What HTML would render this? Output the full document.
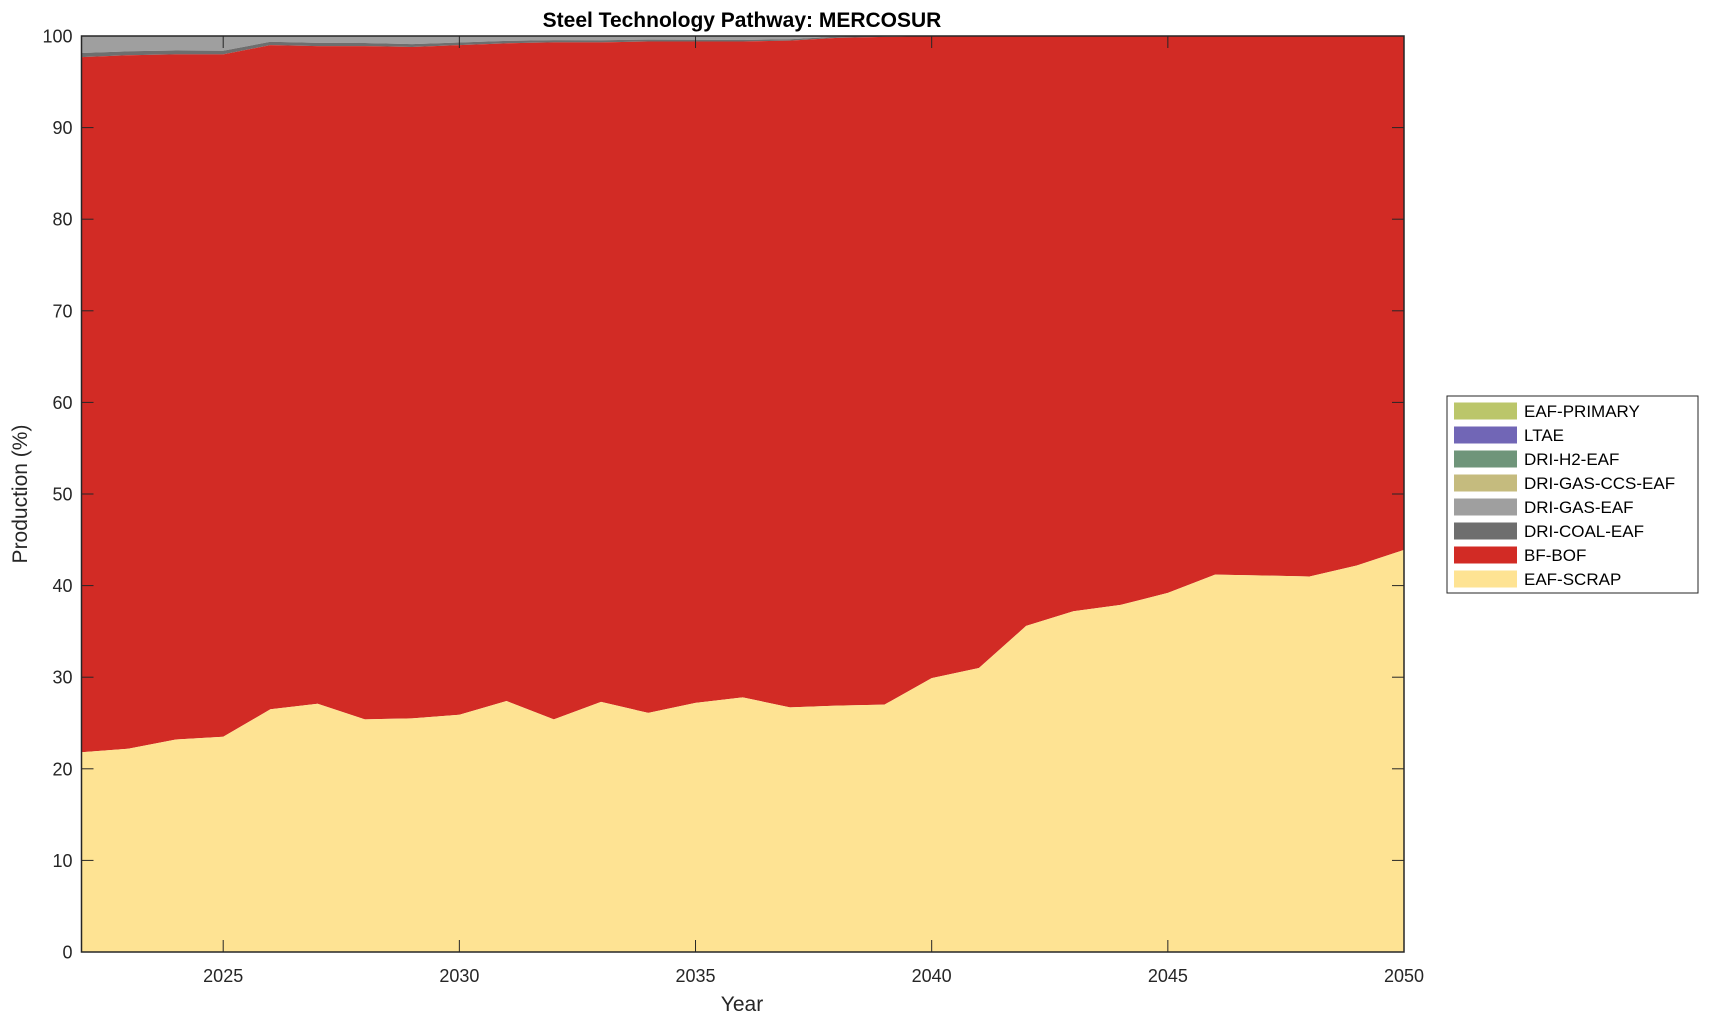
<!DOCTYPE html>
<html><head><meta charset="utf-8"><style>
html,body{margin:0;padding:0;background:#fff;}
svg{display:block;font-family:"Liberation Sans",Arial,sans-serif;}
</style></head><body>
<svg id="s" width="1709" height="1021" viewBox="0 0 1709 1021" xmlns="http://www.w3.org/2000/svg">
<g id="areas"></g>
<g id="axes"></g>
<text x="742" y="27" text-anchor="middle" font-size="21" font-weight="bold" fill="#000">Steel Technology Pathway: MERCOSUR</text>
<text x="742" y="1011" text-anchor="middle" font-size="21" fill="#262626">Year</text>
<text transform="translate(27,494) rotate(-90)" text-anchor="middle" font-size="21" fill="#262626">Production (%)</text>
<g id="legend">
<rect x="1447" y="396" width="251" height="197" fill="#fff" stroke="#262626" stroke-width="1"/>
</g>
</svg>
<script>
const L=81.5,R=1404,T=36,B=952;
const X=y=>L+(y-2022)*(R-L)/28, Y=v=>B-v*(B-T)/100;
const scrap=[21.8,22.2,23.2,23.5,26.5,27.1,25.4,25.5,25.9,27.4,25.4,27.3,26.1,27.2,27.8,26.7,26.9,27.0,29.9,31.0,35.6,37.2,37.9,39.2,41.2,41.1,41.0,42.2,43.9];
const bof=[97.7,97.9,98.0,98.0,99.0,98.9,98.9,98.8,99.0,99.2,99.3,99.3,99.4,99.4,99.4,99.5,99.8,99.9,100,100,100,100,100,100,100,100,100,100,100];
const coal=bof.map((v,i)=>Math.min(100,v+(i<17?0.45-i*0.02:0.1)));
const ns="http://www.w3.org/2000/svg";
function poly(top,bot,fill,g){let p=[];top.forEach((v,i)=>p.push(X(2022+i).toFixed(2)+","+Y(v).toFixed(2)));
for(let i=bot.length-1;i>=0;i--)p.push(X(2022+i).toFixed(2)+","+Y(bot[i]).toFixed(2));
const e=document.createElementNS(ns,"polygon");e.setAttribute("points",p.join(" "));e.setAttribute("fill",fill);g.appendChild(e);}
const A=document.getElementById("areas");
const zero=scrap.map(()=>0),hund=scrap.map(()=>100);
poly(hund,coal,"#9f9f9f",A);
poly(coal,bof,"#6e6e6e",A);
poly(bof,scrap,"#d22b25",A);
poly(scrap,zero,"#fee393",A);
const G=document.getElementById("axes");
let h=`<rect x="${L}" y="${T}" width="${R-L}" height="${B-T}" fill="none" stroke="#262626" stroke-width="1.5"/>`;
for(let v=0;v<=100;v+=10){const y=Y(v);h+=`<line x1="${L}" x2="${L+12}" y1="${y}" y2="${y}" stroke="#262626"/><line x1="${R-12}" x2="${R}" y1="${y}" y2="${y}" stroke="#262626"/><text x="${L-9}" y="${y+6.5}" text-anchor="end" font-size="18" fill="#262626">${v}</text>`;}
for(let yr=2025;yr<=2050;yr+=5){const x=X(yr);h+=`<line x1="${x}" x2="${x}" y1="${B}" y2="${B-12}" stroke="#262626"/><line x1="${x}" x2="${x}" y1="${T}" y2="${T+12}" stroke="#262626"/><text x="${x}" y="${B+30}" text-anchor="middle" font-size="18" fill="#262626">${yr}</text>`;}
G.innerHTML=h;
const leg=[["EAF-PRIMARY","#bbc66a"],["LTAE","#7166b6"],["DRI-H2-EAF","#6f957a"],["DRI-GAS-CCS-EAF","#c5bb7e"],["DRI-GAS-EAF","#9f9f9f"],["DRI-COAL-EAF","#6e6e6e"],["BF-BOF","#d22b25"],["EAF-SCRAP","#fee393"]];
let lh=document.getElementById("legend").innerHTML;
leg.forEach((d,i)=>{const cy=411+i*24;lh+=`<rect x="1454" y="${cy-8.5}" width="63" height="17" fill="${d[1]}"/><text x="1524" y="${cy+6}" font-size="17" fill="#000">${d[0]}</text>`;});
document.getElementById("legend").innerHTML=lh;
</script>
</body></html>
